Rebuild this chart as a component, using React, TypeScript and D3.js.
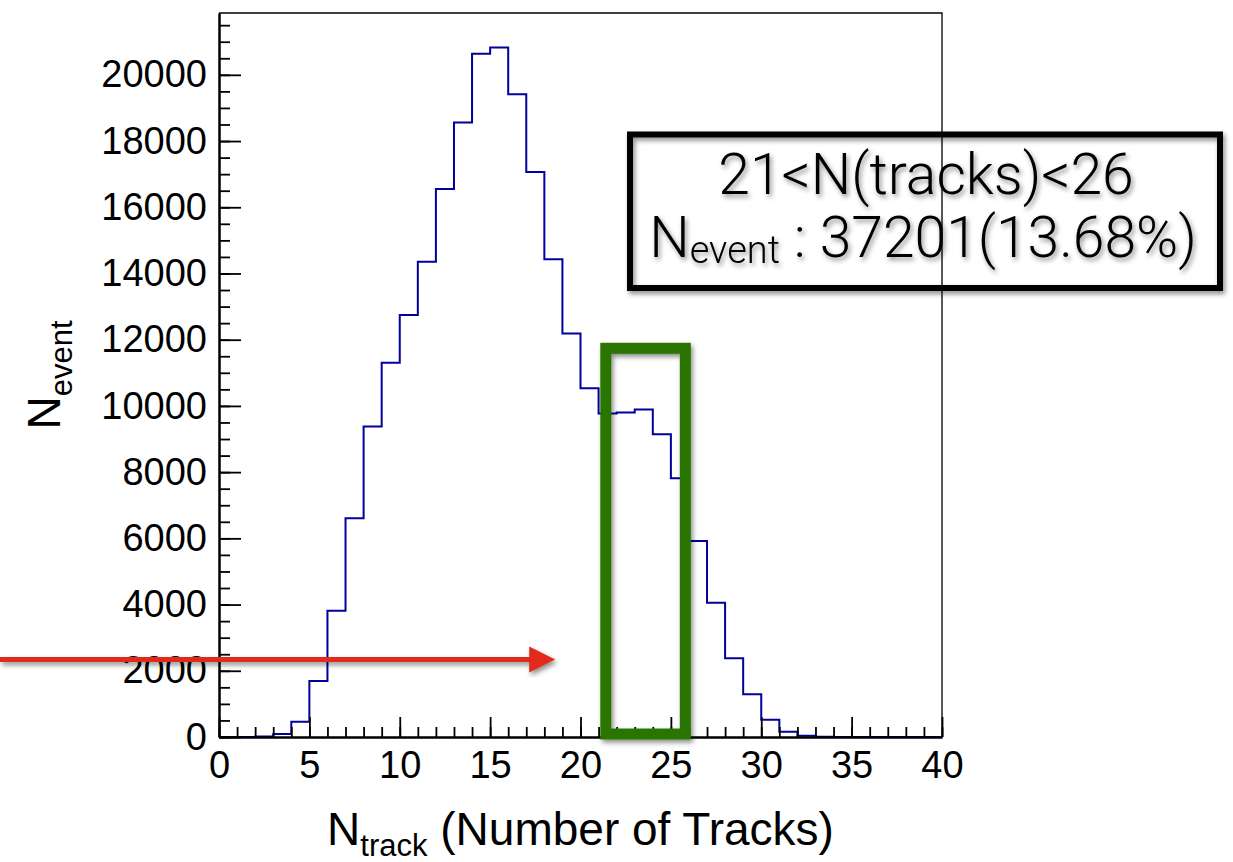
import React, { useEffect, useRef } from 'react';
import * as d3 from 'd3';

// histogram contents, one value per unit-wide bin from 0 to 40
const binEdges = d3.range(0, 41);
const binCounts = [
  0, 0, 15, 90, 463, 1694, 3812, 6605, 9380, 11307,
  12747, 14351, 16551, 18557, 20635, 20826, 19415, 17065, 14433, 12184,
  10530, 9773, 9803, 9894, 9147, 7816, 5921, 4054, 2380, 1291,
  524, 161, 40, 10, 0, 0, 0, 0, 0, 0,
];
const xTickValues = [0, 5, 10, 15, 20, 25, 30, 35, 40];
const yTickValues = [0, 2000, 4000, 6000, 8000, 10000, 12000, 14000, 16000, 18000, 20000];

// annotations (data units)
const selWindow = { x0: 21.4, x1: 25.8, y0: 90, y1: 11740 };
const arrowLevel = 2340;
const arrowTip = 18.6;
const legendLines = ['21<N(tracks)<26', ' : 37201(13.68%)'];

const FONT = '"Liberation Sans", Arial, Helvetica, sans-serif';
const LIGHT_FONT = 'Roboto, "Liberation Sans", Arial, sans-serif';

const App = () => {
  const ref = useRef<SVGSVGElement>(null);

  useEffect(() => {
    if (!ref.current) return;
    const svg = d3.select(ref.current);
    svg.selectAll('*').remove();

    const left = 219;
    const right = 942;
    const top = 13;
    const bottom = 737;

    const defs = svg.append('defs');
    const shadow = defs
      .append('filter')
      .attr('id', 'shadow')
      .attr('x', '-10%')
      .attr('y', '-10%')
      .attr('width', '130%')
      .attr('height', '130%');
    shadow
      .append('feDropShadow')
      .attr('dx', 2)
      .attr('dy', 3)
      .attr('stdDeviation', 2.5)
      .attr('flood-color', '#000')
      .attr('flood-opacity', 0.45);

    const x = d3.scaleLinear().domain([0, 40]).range([left, right]);
    const yMax = (d3.max(binCounts) as number) * 1.05;
    const y = d3.scaleLinear().domain([0, yMax]).range([bottom, top]);

    // histogram outline
    const pts: [number, number][] = binCounts.map((c, i) => [binEdges[i], c]);
    pts.push([binEdges[40], binCounts[39]]);
    const line = d3
      .line<[number, number]>()
      .x((d) => x(d[0]))
      .y((d) => y(d[1]))
      .curve(d3.curveStepAfter);
    svg
      .append('path')
      .datum(pts)
      .attr('fill', 'none')
      .attr('stroke', '#00009c')
      .attr('stroke-width', 2)
      .attr('d', line);

    // frame (top / right)
    svg
      .append('path')
      .attr('d', `M${left},${top}H${right}V${bottom}`)
      .attr('fill', 'none')
      .attr('stroke', '#000')
      .attr('stroke-width', 1.3);

    const styleAxis = (g: any, size: number) => {
      g.attr('font-family', FONT).attr('font-size', size);
      g.selectAll('.domain').attr('stroke', '#000').attr('stroke-width', 2);
      g.selectAll('.tick line').attr('stroke', '#000').attr('stroke-width', 1.8);
      g.selectAll('.tick text').attr('fill', '#000');
    };

    // x axis
    const xMinor = svg.append('g').attr('transform', `translate(0,${bottom})`);
    xMinor.call(
      d3.axisBottom(x).tickValues(binEdges).tickSizeInner(-10).tickSizeOuter(0).tickFormat(() => '')
    );
    styleAxis(xMinor, 38);
    const xMajor = svg.append('g').attr('transform', `translate(0,${bottom})`);
    xMajor.call(
      d3.axisBottom(x).tickValues(xTickValues).tickSizeInner(-20).tickSizeOuter(0).tickPadding(14).tickFormat((d) => `${d}`)
    );
    styleAxis(xMajor, 38);

    // y axis
    const yMinor = svg.append('g').attr('transform', `translate(${left},0)`);
    yMinor.call(
      d3.axisLeft(y).tickValues(d3.range(0, yMax, 500)).tickSizeInner(-11).tickSizeOuter(0).tickFormat(() => '')
    );
    styleAxis(yMinor, 38);
    const yMajor = svg.append('g').attr('transform', `translate(${left},0)`);
    yMajor.call(
      d3.axisLeft(y).tickValues(yTickValues).tickSizeInner(-22).tickSizeOuter(0).tickPadding(12).tickFormat((d) => `${d}`)
    );
    styleAxis(yMajor, 38);

    // axis titles
    const xt = svg
      .append('text')
      .attr('x', (left + right) / 2)
      .attr('y', 845)
      .attr('text-anchor', 'middle')
      .attr('font-family', FONT)
      .attr('font-size', 46);
    xt.append('tspan').text('N');
    xt.append('tspan').attr('font-size', 31).attr('dy', 11).text('track');
    xt.append('tspan').attr('dy', -11).text(' (Number of Tracks)');

    const yt = svg
      .append('text')
      .attr('transform', `translate(60,${(top + bottom) / 2}) rotate(-90)`)
      .attr('text-anchor', 'middle')
      .attr('font-family', FONT)
      .attr('font-size', 46);
    yt.append('tspan').text('N');
    yt.append('tspan').attr('font-size', 31).attr('dy', 12).text('event');

    // selected window
    svg
      .append('rect')
      .attr('x', x(selWindow.x0))
      .attr('y', y(selWindow.y1))
      .attr('width', x(selWindow.x1) - x(selWindow.x0))
      .attr('height', y(selWindow.y0) - y(selWindow.y1))
      .attr('fill', 'none')
      .attr('stroke', '#297506')
      .attr('stroke-width', 11)
      .attr('filter', 'url(#shadow)');

    // red arrow
    const ay = y(arrowLevel);
    const ax = x(arrowTip);
    const arrow = svg.append('g').attr('filter', 'url(#shadow)');
    arrow
      .append('line')
      .attr('x1', 0)
      .attr('x2', ax - 24)
      .attr('y1', ay)
      .attr('y2', ay)
      .attr('stroke', '#e0291c')
      .attr('stroke-width', 5);
    arrow
      .append('path')
      .attr('d', `M${ax},${ay}L${ax - 26},${ay - 13}L${ax - 26},${ay + 13}Z`)
      .attr('fill', '#e0291c');

    // info box
    svg
      .append('rect')
      .attr('x', 630)
      .attr('y', 134.5)
      .attr('width', 590)
      .attr('height', 153.5)
      .attr('fill', 'none')
      .attr('stroke', '#000')
      .attr('stroke-width', 6)
      .attr('filter', 'url(#shadow)');
    svg
      .append('text')
      .attr('x', 926)
      .attr('y', 194)
      .attr('text-anchor', 'middle')
      .attr('font-family', LIGHT_FONT)
      .attr('font-weight', 300)
      .attr('font-size', 57)
      .attr('filter', 'url(#shadow)')
      .text(legendLines[0]);
    const l2 = svg
      .append('text')
      .attr('x', 923)
      .attr('y', 257)
      .attr('text-anchor', 'middle')
      .attr('font-family', LIGHT_FONT)
      .attr('font-weight', 300)
      .attr('font-size', 57)
      .attr('filter', 'url(#shadow)');
    l2.append('tspan').text('N');
    l2.append('tspan').attr('font-size', 38).attr('dy', 6).text('event');
    l2.append('tspan').attr('dy', -6).text(legendLines[1]);
  }, []);

  return (
    <svg
      ref={ref}
      width={1233}
      height={862}
      style={{ position: 'absolute', left: 0, top: 0, background: '#fff' }}
    />
  );
};

export default App;
